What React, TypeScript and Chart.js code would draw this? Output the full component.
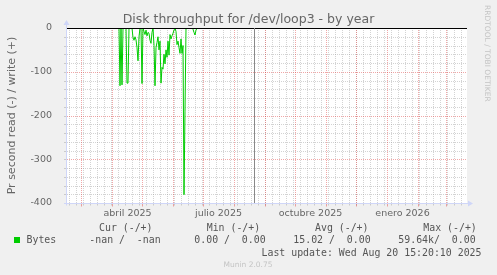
import React, { useEffect, useRef } from 'react';
import { Chart, registerables } from 'chart.js';

Chart.register(...registerables);

const chartTitle = 'Disk throughput for /dev/loop3 - by year';
const yAxisTitle = 'Pr second read (-) / write (+)';
const watermark = 'RRDTOOL / TOBI OETIKER';
const footer = 'Munin 2.0.75';
const rangeStart = '2025-02-15';
const rangeDays = 400;
const lastUpdateTime = '2025-08-20T15:20:10Z';
const monthLabels = ['abril 2025', 'julio 2025', 'octubre 2025', 'enero 2026'];
const monthLabelMonths = ['2025-04-01', '2025-07-01', '2025-10-01', '2026-01-01'];
const yTickValues = [0, -100, -200, -300, -400];
const seriesName = 'Bytes';
const legendHeaders = ['Cur (-/+)', 'Min (-/+)', 'Avg (-/+)', 'Max (-/+)'];
const legendValues = ['-nan /  -nan', '0.00 /  0.00', '15.02 /  0.00', '59.64k/  0.00'];
const lastUpdateText = 'Last update: Wed Aug 20 15:20:10 2025';

const readDates = [
  '2025-04-08', '2025-04-09', '2025-04-10', '2025-04-11', '2025-04-12', '2025-04-13', '2025-04-14',
  '2025-04-15', '2025-04-16', '2025-04-17', '2025-04-18', '2025-04-19', '2025-04-20', '2025-04-21',
  '2025-04-22', '2025-04-23', '2025-04-24', '2025-04-25', '2025-04-26', '2025-04-27', '2025-04-28',
  '2025-04-29', '2025-04-30', '2025-05-01', '2025-05-02', '2025-05-03', '2025-05-04', '2025-05-05',
  '2025-05-06', '2025-05-07', '2025-05-08', '2025-05-09', '2025-05-10', '2025-05-11', '2025-05-12',
  '2025-05-13', '2025-05-14', '2025-05-15', '2025-05-16', '2025-05-17', '2025-05-18', '2025-05-19',
  '2025-05-20', '2025-05-21', '2025-05-22', '2025-05-23', '2025-05-24', '2025-05-25', '2025-05-26',
  '2025-05-27', '2025-05-28', '2025-05-29', '2025-05-30', '2025-05-31', '2025-06-01', '2025-06-02',
  '2025-06-03', '2025-06-04', '2025-06-05', '2025-06-06', '2025-06-07', '2025-06-08', '2025-06-09',
  '2025-06-10', '2025-06-11', '2025-06-12', '2025-06-13', '2025-06-14', '2025-06-15', '2025-06-16',
  '2025-06-17', '2025-06-18', '2025-06-19', '2025-06-20', '2025-06-21', '2025-06-22', '2025-06-23',
  '2025-06-24', '2025-06-25',
];
const readValues = [
  0, -132, 0, -130, 0, 0, 0,
  0, -126, -126, 0, 0, 0, 0,
  -22, -28, -20, -27, -45, -75, -20,
  0, 0, -127, 0, -8, -15, -5,
  -18, -10, -12, -28, -35, -10, 0,
  -40, -132, -45, -33, -20, -50, -30,
  -126, -90, -94, -60, -82, -50, -67,
  -30, -62, -15, -25, -18, -12, -5,
  0, -8, -38, -30, -45, -58, -25,
  -58, -40, -381, -190, 0, 0, 0,
  0, 0, 0, 0, -3, -10, -16,
  -5, 0,
];

const DAY = 86400000;
const dayNum = (s: string) => {
  const [y, m, d] = s.split('-').map(Number);
  return Date.UTC(y, m - 1, d || 1) / DAY;
};
const X_MIN = dayNum(rangeStart);
const X_MAX = X_MIN + rangeDays;
const NOW_DAY = new Date(lastUpdateTime).getTime() / DAY;

const MINOR = 'rgba(150,150,150,0.42)';
const MAJOR = 'rgba(225,60,60,0.45)';
const AXIS = '#CFD6F8';
const FONT_COLOR = '#666666';

function monthStarts(): number[] {
  const out: number[] = [];
  const s = new Date(X_MIN * DAY);
  let y = s.getUTCFullYear();
  let m = s.getUTCMonth() + 1;
  for (;;) {
    if (m > 11) { m = 0; y++; }
    const t = Date.UTC(y, m, 1) / DAY;
    if (t > X_MAX) break;
    out.push(t);
    m++;
  }
  return out;
}
function weekStarts(): number[] {
  const out: number[] = [];
  let t = X_MIN;
  while (new Date(t * DAY).getUTCDay() !== 1) t++;
  for (; t <= X_MAX; t += 7) out.push(t);
  return out;
}

const crisp = (v: number) => Math.round(v) + 0.5;
function seg(ctx: CanvasRenderingContext2D, x1: number, y1: number, x2: number, y2: number) {
  ctx.beginPath();
  ctx.moveTo(x1, y1);
  ctx.lineTo(x2, y2);
  ctx.stroke();
}

const muninPlugin = {
  id: 'muninDecor',
  beforeDraw(chart: any) {
    const ctx = chart.ctx;
    ctx.save();
    ctx.fillStyle = '#f0f0f0';
    ctx.fillRect(0, 0, chart.width, chart.height);
    ctx.restore();
  },
  beforeDatasetsDraw(chart: any) {
    const { ctx, chartArea: a } = chart;
    const xs = chart.scales.x;
    const ys = chart.scales.y;
    ctx.save();
    ctx.fillStyle = '#ffffff';
    ctx.fillRect(a.left, a.top, a.right - a.left, a.bottom - a.top);
    ctx.lineWidth = 1;
    ctx.setLineDash([1, 1]);
    ctx.strokeStyle = MINOR;
    for (let v = -380; v < 0; v += 20) {
      if (v % 100 === 0) continue;
      const py = crisp(ys.getPixelForValue(v));
      seg(ctx, a.left, py, a.right, py);
    }
    for (const w of weekStarts()) {
      const px = crisp(xs.getPixelForValue(w));
      if (px <= a.left + 1 || px >= a.right) continue;
      seg(ctx, px, a.top, px, a.bottom);
    }
    ctx.strokeStyle = MAJOR;
    for (const v of yTickValues) {
      const py = crisp(ys.getPixelForValue(v));
      seg(ctx, a.left, py, a.right, py);
    }
    for (const m of monthStarts()) {
      const px = crisp(xs.getPixelForValue(m));
      if (px <= a.left + 1 || px >= a.right) continue;
      seg(ctx, px, a.top, px, a.bottom);
    }
    ctx.restore();
  },
  afterDatasetsDraw(chart: any) {
    const { ctx, chartArea: a } = chart;
    const xs = chart.scales.x;
    const ys = chart.scales.y;
    ctx.save();
    ctx.lineWidth = 1;
    ctx.setLineDash([]);
    ctx.strokeStyle = '#000000';
    const y0 = crisp(ys.getPixelForValue(0));
    seg(ctx, a.left, y0, a.right, y0);
    ctx.strokeStyle = '#888888';
    const nx = crisp(xs.getPixelForValue(NOW_DAY));
    seg(ctx, nx, a.top, nx, a.bottom);
    const yb = crisp(ys.getPixelForValue(-400));
    ctx.strokeStyle = MINOR;
    for (const w of weekStarts()) {
      const px = crisp(xs.getPixelForValue(w));
      if (px <= a.left + 1 || px >= a.right) continue;
      seg(ctx, px, yb, px, yb + 2);
    }
    for (let v = -380; v < 0; v += 20) {
      const py = crisp(ys.getPixelForValue(v));
      seg(ctx, a.left - 3, py, a.left - 1, py);
    }
    ctx.strokeStyle = MAJOR;
    for (const m of monthStarts()) {
      const px = crisp(xs.getPixelForValue(m));
      if (px <= a.left + 1 || px >= a.right) continue;
      seg(ctx, px, yb, px, yb + 3);
    }
    ctx.strokeStyle = AXIS;
    ctx.fillStyle = AXIS;
    const ax = a.left - 0.5;
    seg(ctx, ax, yb + 2, ax, a.top - 4);
    seg(ctx, a.left - 3, yb, a.right + 2, yb);
    ctx.beginPath();
    ctx.moveTo(ax - 3, a.top - 3);
    ctx.lineTo(ax + 3, a.top - 3);
    ctx.lineTo(ax, a.top - 8);
    ctx.closePath();
    ctx.fill();
    ctx.beginPath();
    ctx.moveTo(a.right + 1, yb - 3);
    ctx.lineTo(a.right + 1, yb + 3);
    ctx.lineTo(a.right + 6, yb);
    ctx.closePath();
    ctx.fill();
    ctx.restore();
  },
  afterDraw(chart: any) {
    const { ctx } = chart;
    const xs = chart.scales.x;
    ctx.save();
    ctx.fillStyle = FONT_COLOR;
    ctx.textBaseline = 'alphabetic';
    ctx.font = '12.5px "DejaVu Sans"';
    ctx.textAlign = 'center';
    ctx.fillText(chartTitle, 248.5, 23);
    ctx.font = '9.5px "DejaVu Sans"';
    monthLabels.forEach((lab, i) => {
      const px = xs.getPixelForValue(dayNum(monthLabelMonths[i]) + 15.5);
      ctx.fillText(lab, px, 216.3);
    });
    ctx.save();
    ctx.font = '11px "DejaVu Sans"';
    ctx.translate(15, 115.5);
    ctx.rotate(-Math.PI / 2);
    ctx.textAlign = 'center';
    ctx.fillText(yAxisTitle, 0, 0);
    ctx.restore();
    ctx.save();
    ctx.fillStyle = '#c4c4c4';
    ctx.font = '7.5px "DejaVu Sans"';
    ctx.translate(485, 5);
    ctx.rotate(Math.PI / 2);
    ctx.textAlign = 'left';
    ctx.fillText(watermark, 0, 0);
    ctx.restore();
    ctx.textAlign = 'left';
    ctx.font = '9.9px "DejaVu Sans Mono"';
    ctx.fillStyle = '#555555';
    const headX = [99, 206.7, 315, 423.3];
    legendHeaders.forEach((h, i) => ctx.fillText(h, headX[i], 231));
    const valX = [89.3, 194.3, 293.3, 398.3];
    legendValues.forEach((v, i) => ctx.fillText(v, valX[i], 243.3));
    ctx.fillText(seriesName, 26.5, 243.3);
    ctx.fillText(lastUpdateText, 261.5, 255.5);
    ctx.fillStyle = '#00cc00';
    ctx.fillRect(14, 237, 6, 6);
    ctx.fillStyle = '#c4c4c4';
    ctx.font = '7.5px "DejaVu Sans"';
    ctx.textAlign = 'center';
    ctx.fillText(footer, 248, 266.5);
    ctx.restore();
  },
};

export default function App() {
  const ref = useRef<HTMLCanvasElement>(null);
  useEffect(() => {
    document.body.style.margin = '0';
    const chart = new Chart(ref.current as HTMLCanvasElement, {
      type: 'line',
      data: {
        datasets: [
          {
            label: seriesName,
            data: readDates.map((d, i) => ({ x: dayNum(d), y: readValues[i] })),
            borderColor: '#00cc00',
            backgroundColor: '#00cc00',
            borderWidth: 1,
            pointRadius: 0,
            tension: 0,
            fill: false,
          },
        ],
      },
      options: {
        animation: false,
        responsive: false,
        devicePixelRatio: 1,
        layout: { padding: { top: 28, right: 30, bottom: 72, left: 0 } },
        plugins: {
          legend: { display: false },
          tooltip: { enabled: false },
          title: { display: false },
        },
        scales: {
          x: { type: 'linear', min: X_MIN, max: X_MAX, display: false },
          y: {
            type: 'linear',
            min: -400,
            max: 0,
            afterBuildTicks: (s: any) => {
              s.ticks = yTickValues.map((v) => ({ value: v }));
            },
            afterFit: (s: any) => {
              s.width = 67;
            },
            grid: { display: false },
            border: { display: false },
            ticks: {
              color: FONT_COLOR,
              font: { family: 'DejaVu Sans', size: 9.5 },
              padding: 7,
              autoSkip: false,
              callback: (v: any) => String(v),
            },
          },
        },
      } as any,
      plugins: [muninPlugin],
    });
    return () => chart.destroy();
  }, []);
  return (
    <div style={{ position: 'fixed', left: 0, top: 0, width: 497, height: 275 }}>
      <canvas ref={ref} width={497} height={275} style={{ display: 'block' }} />
    </div>
  );
}
